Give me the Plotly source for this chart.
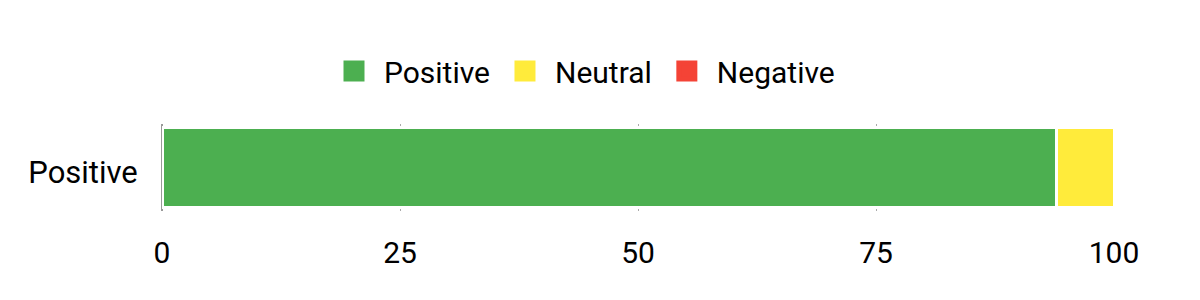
import plotly.graph_objects as go

categories = ["Positive"]
series_names = ["Positive", "Neutral", "Negative"]
positive_vals = [94]
neutral_vals = [6]
negative_vals = [0]
colors = ["#4CAF50", "#FFEB3B", "#F44336"]
tick_vals = [0, 25, 50, 75, 100]

fig = go.Figure()
for name, vals, col in zip(series_names, [positive_vals, neutral_vals, negative_vals], colors):
    fig.add_trace(go.Bar(
        y=categories, x=vals, name=name, orientation="h",
        marker=dict(color=col, line=dict(color="white", width=3)),
        showlegend=False, legendgroup=name,
    ))
    fig.add_trace(go.Scatter(
        x=[None], y=[None], mode="markers", name=name, legendgroup=name,
        marker=dict(symbol="square", size=16, color=col, line=dict(color=col, width=5)),
        showlegend=True,
    ))

fig.update_layout(
    barmode="stack",
    bargap=0.08,
    width=1200, height=300,
    margin=dict(l=162, r=86, t=124, b=89),
    paper_bgcolor="white", plot_bgcolor="white",
    font=dict(family="Roboto", size=30, color="#000000"),
    legend=dict(orientation="h", x=0.485, xanchor="center", xref="container",
                y=0.763, yref="container", yanchor="middle",
                itemwidth=50, font=dict(size=30),
                traceorder="normal", itemclick=False),
    xaxis=dict(range=[0, 100], tickvals=tick_vals, showgrid=True, gridcolor="#aaaaaa",
               gridwidth=1, zeroline=True, zerolinecolor="#999999", zerolinewidth=2,
               ticks="outside", ticklen=15, tickcolor="rgba(0,0,0,0)",
               tickfont=dict(size=30), showline=False),
    yaxis=dict(ticks="outside", ticklen=17, tickcolor="rgba(0,0,0,0)", tickfont=dict(size=31),
               ticklabelshift=5, showgrid=False),
)
fig.write_html("out.html")
